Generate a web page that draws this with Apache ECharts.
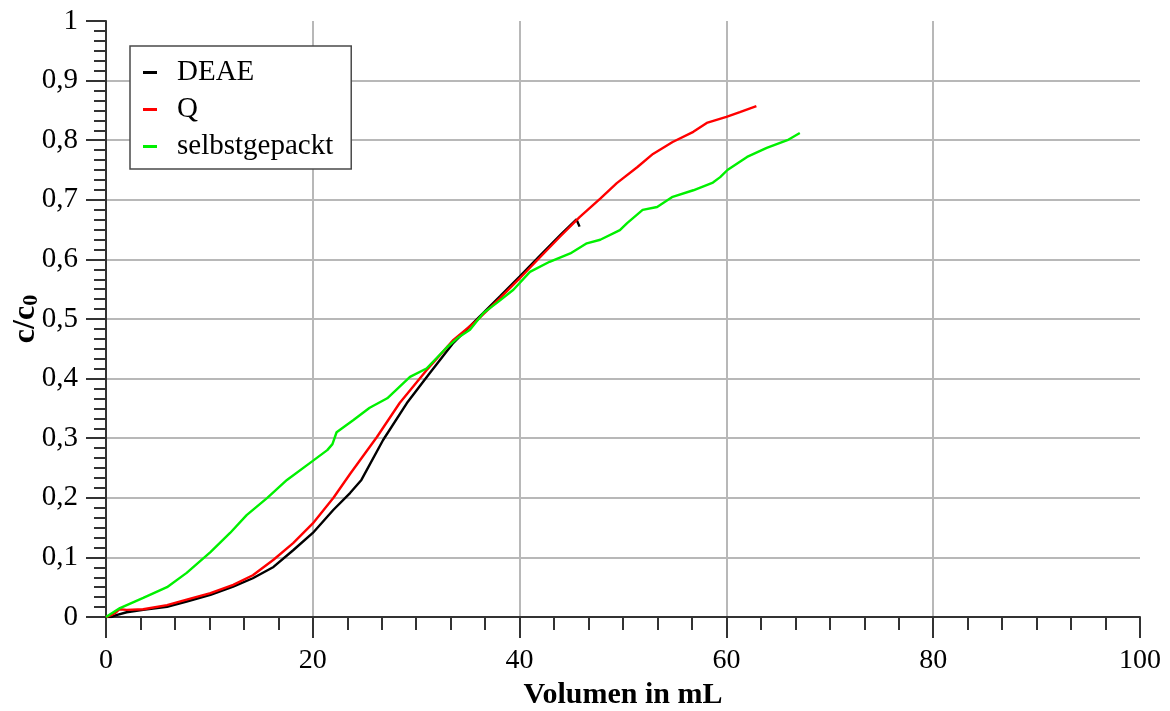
<!DOCTYPE html>
<html>
<head>
<meta charset="utf-8">
<script src="https://cdn.jsdelivr.net/npm/echarts@6/dist/echarts.min.js"></script>
<style>
  html, body { margin: 0; padding: 0; background: #fff; }
  #chart { width: 1170px; height: 711px; }
</style>
</head>
<body>
<div id="chart"></div>
<script>
// Breakthrough curves: volume (mL) vs. relative concentration c/c0
const seriesNames = ['DEAE', 'Q', 'selbstgepackt'];

const deae = [
  [0, 0], [0.5, 0], [1, 0.003], [2, 0.008], [3.6, 0.012], [5.9, 0.017], [7.8, 0.026],
  [10.1, 0.037], [12.3, 0.051], [14.2, 0.065], [16.2, 0.084], [18.1, 0.112],
  [20, 0.141], [22, 0.18], [23.6, 0.208], [24.7, 0.23], [26.8, 0.297], [29.1, 0.359],
  [31.3, 0.409], [33.6, 0.46], [35.5, 0.493], [38.1, 0.538], [40, 0.571],
  [42, 0.607], [44, 0.642], [45.5, 0.667], [45.8, 0.655]
];

const q = [
  [0, 0], [0.5, 0.003], [1, 0.008], [1.3, 0.013], [2, 0.012], [3.6, 0.013], [5.9, 0.02],
  [7.8, 0.029], [10.1, 0.04], [12.3, 0.054], [14.2, 0.07], [16.2, 0.096], [18.1, 0.124],
  [20, 0.157], [22, 0.2], [23.6, 0.24], [26.2, 0.302], [28.4, 0.359], [31, 0.414],
  [33.6, 0.465], [35.9, 0.498], [38.1, 0.535], [40, 0.568], [42, 0.604], [43.9, 0.638],
  [45.8, 0.671], [47.8, 0.702], [49.4, 0.728], [51.4, 0.755], [52.9, 0.777],
  [54.8, 0.797], [56.8, 0.814], [58.1, 0.829], [60, 0.839], [61.3, 0.847], [62.9, 0.857]
];

const selbstgepackt = [
  [0, 0], [1.35, 0.015], [3.6, 0.032], [5.9, 0.05], [7.8, 0.074], [10.1, 0.109],
  [12, 0.141], [13.6, 0.171], [15.6, 0.2], [17.5, 0.23], [20, 0.262], [21.4, 0.28],
  [21.9, 0.29], [22.3, 0.31], [23.9, 0.33], [25.5, 0.351], [27.2, 0.367], [29.4, 0.403],
  [31, 0.417], [33, 0.453], [34, 0.468], [35.2, 0.482], [36.5, 0.51], [37.8, 0.527],
  [39.4, 0.549], [41, 0.579], [42.9, 0.596], [44.9, 0.61], [46.5, 0.627], [47.8, 0.633],
  [49.7, 0.649], [50.4, 0.661], [51.9, 0.683], [53.3, 0.688], [54.8, 0.705],
  [56.8, 0.716], [58.7, 0.729], [59.4, 0.738], [60.1, 0.75], [62, 0.772],
  [63.9, 0.787], [65.9, 0.8], [67.1, 0.812]
];

const seriesColors = ['#000000', '#ff0000', '#00f000'];
const seriesData = [deae, q, selbstgepackt];

const FONT = "'Liberation Serif', 'Times New Roman', serif";
const AXIS_DARK = '#333333';
const GRID_GRAY = '#b8b8b8';

const chart = echarts.init(document.getElementById('chart'), null, { renderer: 'canvas' });

chart.setOption({
  animation: false,
  backgroundColor: '#ffffff',
  grid: { left: 106, right: 30, top: 21, bottom: 94, containLabel: false, outerBoundsMode: 'none' },
  legend: {
    orient: 'vertical',
    left: 130,
    top: 46,
    padding: [12, 18, 8, 13],
    itemGap: 8,
    itemWidth: 14,
    itemHeight: 3,
    icon: 'rect',
    borderColor: '#4a4a4a',
    borderWidth: 1.5,
    backgroundColor: '#ffffff',
    textStyle: { fontFamily: FONT, fontSize: 29, color: '#000', padding: [0, 0, 0, 15] },
    data: seriesNames
  },
  xAxis: {
    type: 'value',
    min: 0,
    max: 100,
    interval: 20,
    name: 'Volumen in mL',
    nameLocation: 'middle',
    nameGap: 63,
    nameMoveOverlap: false,
    nameTextStyle: { fontFamily: FONT, fontSize: 30, fontWeight: 'bold', color: '#000' },
    axisLine: { show: true, lineStyle: { color: AXIS_DARK, width: 2 } },
    axisTick: { show: true, length: 21, lineStyle: { color: AXIS_DARK, width: 2 } },
    minorTick: { show: true, splitNumber: 6, length: 13, lineStyle: { color: AXIS_DARK, width: 2 } },
    axisLabel: { fontFamily: FONT, fontSize: 28, color: '#000', margin: 30 },
    splitLine: { show: true, showMinLine: false, showMaxLine: false, lineStyle: { color: GRID_GRAY, width: 2 } }
  },
  yAxis: {
    type: 'value',
    min: 0,
    max: 1,
    interval: 0.1,
    name: '{n|c/c}{sub|0}',
    nameLocation: 'middle',
    nameGap: 64,
    nameMoveOverlap: false,
    nameRotate: 90,
    nameTextStyle: {
      fontFamily: FONT, fontSize: 32, fontWeight: 'bold', color: '#000',
      rich: {
        n: { fontFamily: FONT, fontSize: 32, fontWeight: 'bold', color: '#000' },
        sub: { fontFamily: FONT, fontSize: 22, fontWeight: 'bold', color: '#000', padding: [11, 0, 0, 0] }
      }
    },
    axisLine: { show: true, lineStyle: { color: AXIS_DARK, width: 2 } },
    axisTick: { show: true, length: 20, lineStyle: { color: AXIS_DARK, width: 2 } },
    minorTick: { show: true, splitNumber: 6, length: 12, lineStyle: { color: AXIS_DARK, width: 2 } },
    axisLabel: {
      fontFamily: FONT, fontSize: 29, color: '#000', margin: 28,
      formatter: v => String(Math.round(v * 10) / 10).replace('.', ',')
    },
    splitLine: { show: true, showMinLine: false, showMaxLine: false, lineStyle: { color: GRID_GRAY, width: 2 } }
  },
  series: seriesNames.map((name, i) => ({
    name,
    type: 'line',
    data: seriesData[i],
    showSymbol: false,
    symbol: 'none',
    smooth: false,
    color: seriesColors[i],
    lineStyle: { color: seriesColors[i], width: 2.4 },
    z: 2 + i
  }))
});
</script>
</body>
</html>
